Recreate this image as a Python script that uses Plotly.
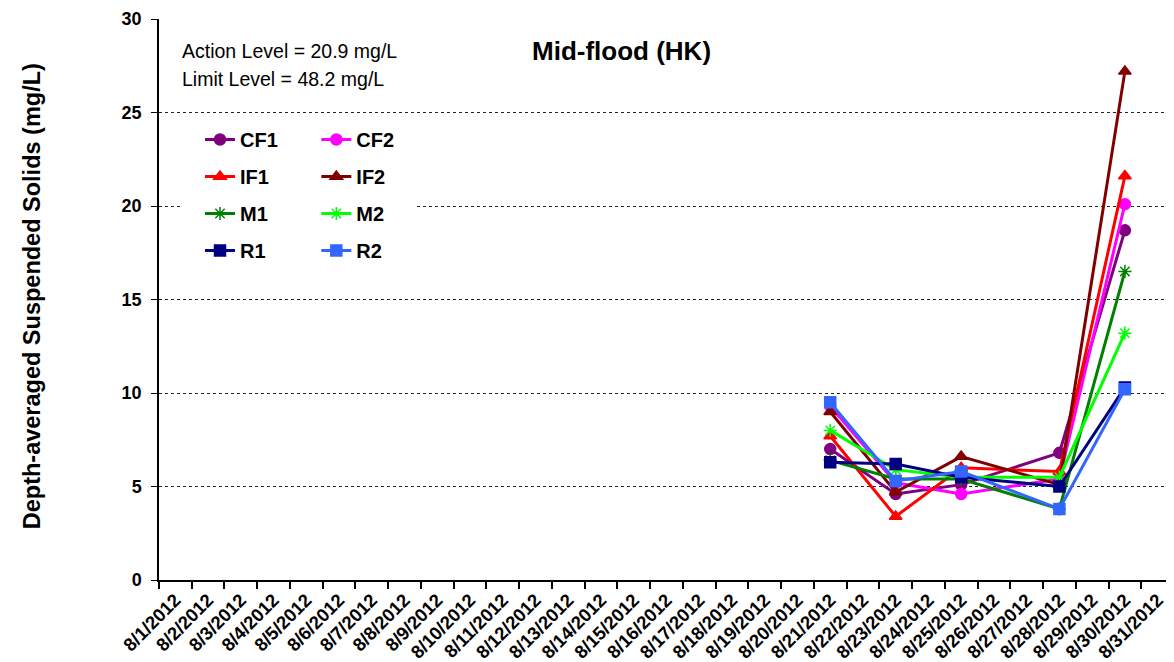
import plotly.graph_objects as go

all_dates = ["8/1/2012", "8/2/2012", "8/3/2012", "8/4/2012", "8/5/2012", "8/6/2012",
             "8/7/2012", "8/8/2012", "8/9/2012", "8/10/2012", "8/11/2012", "8/12/2012",
             "8/13/2012", "8/14/2012", "8/15/2012", "8/16/2012", "8/17/2012", "8/18/2012",
             "8/19/2012", "8/20/2012", "8/21/2012", "8/22/2012", "8/23/2012", "8/24/2012",
             "8/25/2012", "8/26/2012", "8/27/2012", "8/28/2012", "8/29/2012", "8/30/2012",
             "8/31/2012"]
sample_dates = ["8/21/2012", "8/23/2012", "8/25/2012", "8/28/2012", "8/30/2012"]

CF1 = [7.0, 4.6, 5.1, 6.8, 18.7]
CF2 = [9.3, 5.2, 4.6, 5.4, 20.1]
IF1 = [7.7, 3.4, 6.0, 5.8, 21.6]
IF2 = [9.0, 4.7, 6.6, 5.1, 27.2]
M1 = [6.4, 5.4, 5.4, 3.8, 16.5]
M2 = [8.0, 5.9, 5.5, 5.5, 13.2]
R1 = [6.3, 6.2, 5.5, 5.0, 10.3]
R2 = [9.5, 5.3, 5.8, 3.8, 10.2]
y_ticks = [0, 5, 10, 15, 20, 25, 30]

series = [
    ("CF1", CF1, "#800080", "circle", "legend"),
    ("CF2", CF2, "#FF00FF", "circle", "legend2"),
    ("IF1", IF1, "#FF0000", "triangle-up", "legend"),
    ("IF2", IF2, "#800000", "triangle-up", "legend2"),
    ("M1", M1, "#008000", "asterisk-open", "legend"),
    ("M2", M2, "#00FF00", "asterisk-open", "legend2"),
    ("R1", R1, "#000080", "square", "legend"),
    ("R2", R2, "#3366FF", "square", "legend2"),
]

FONT = "Liberation Sans, Arial, sans-serif"
fig = go.Figure()
for name, vals, color, sym, lg in series:
    fig.add_trace(go.Scatter(
        x=sample_dates, y=vals, name=name, mode="lines+markers",
        line=dict(color=color, width=3),
        marker=dict(symbol=sym, size=11, color=color, line=dict(color=color, width=1.5)),
        legend=lg, legendgroup=name, connectgaps=True,
    ))

legend_common = dict(yanchor="top", xanchor="left", bgcolor="rgba(0,0,0,0)",
                     font=dict(size=20, family=FONT, weight="bold"),
                     tracegroupgap=8, traceorder="grouped", itemwidth=30)

fig.update_layout(
    width=1166, height=654,
    margin=dict(l=151, r=0, t=11, b=82),
    paper_bgcolor="white", plot_bgcolor="white",
    font=dict(family=FONT, color="black"),
    showlegend=True,
    legend=dict(x=0.0404, y=0.82, **legend_common),
    legend2=dict(x=0.155, y=0.82, **legend_common),
    shapes=[dict(type="rect", xref="paper", yref="paper", x0=0.0236, x1=0.253,
                 y0=0.556, y1=0.82, fillcolor="white", line=dict(width=0), layer="above")],
    annotations=[
        dict(text="Action Level = 20.9 mg/L", xref="paper", yref="paper",
             x=0.0207, y=0.943, xanchor="left", yanchor="middle", showarrow=False,
             font=dict(size=19.5, family=FONT)),
        dict(text="Limit Level = 48.2 mg/L", xref="paper", yref="paper",
             x=0.0207, y=0.893, xanchor="left", yanchor="middle", showarrow=False,
             font=dict(size=19.5, family=FONT)),
        dict(text="Mid-flood (HK)", xref="paper", yref="paper",
             x=0.456, y=0.943, xanchor="center", yanchor="middle", showarrow=False,
             font=dict(size=26, family=FONT, weight="bold")),
        dict(text="Depth-averaged Suspended Solids (mg/L)", xref="paper", yref="paper",
             x=-0.125, y=0.506, xanchor="center", yanchor="middle", showarrow=False,
             textangle=-90, font=dict(size=23.5, family=FONT, weight="bold")),
    ],
)
fig.update_xaxes(
    type="category", categoryorder="array", categoryarray=all_dates,
    tickvals=all_dates, ticktext=all_dates, range=[-0.5, 30.5],
    tickangle=-45, tickfont=dict(size=18.5, family=FONT, weight="bold"),
    ticks="outside", tickson="boundaries", ticklen=7, tickcolor="black", tickwidth=1.5,
    showline=True, linecolor="black", linewidth=2, showgrid=False, automargin=False,
)
fig.update_yaxes(
    range=[0, 30], tickvals=y_ticks, ticks="outside", ticklen=6, tickcolor="black",
    tickfont=dict(size=18, family=FONT, weight="bold"), ticklabelstandoff=6,
    showline=True, linecolor="black", linewidth=1.5,
    showgrid=True, gridcolor="#222", griddash="dot", gridwidth=1, zeroline=False,
    automargin=False,
)
fig.write_html("out.html")
